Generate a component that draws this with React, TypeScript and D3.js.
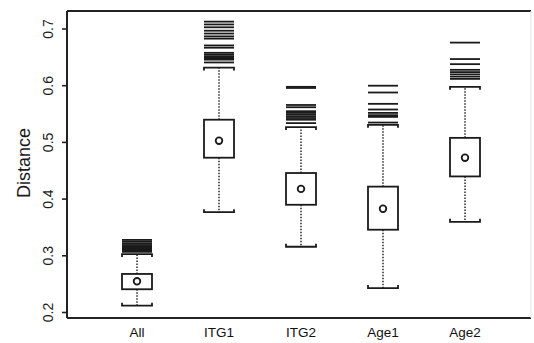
import { useEffect, useRef } from "react";
import * as d3 from "d3";

const categories = ["All", "ITG1", "ITG2", "Age1", "Age2"];
const lowerWhisker = [0.212, 0.377, 0.316, 0.243, 0.36];
const q1 = [0.241, 0.473, 0.39, 0.346, 0.44];
const centre = [0.255, 0.503, 0.418, 0.383, 0.473];
const q3 = [0.268, 0.54, 0.446, 0.422, 0.508];
const upperWhisker = [0.303, 0.632, 0.527, 0.531, 0.598];
const outliers = [
  [0.307, 0.309, 0.311, 0.313, 0.315, 0.317, 0.319, 0.322, 0.325, 0.328],
  [0.641, 0.646, 0.648, 0.65, 0.652, 0.655, 0.658, 0.667, 0.671, 0.683, 0.687, 0.692, 0.697, 0.703, 0.708, 0.713],
  [0.534, 0.54, 0.543, 0.546, 0.549, 0.552, 0.555, 0.562, 0.566, 0.596, 0.598],
  [0.535, 0.545, 0.548, 0.552, 0.558, 0.568, 0.588, 0.6],
  [0.612, 0.616, 0.62, 0.624, 0.628, 0.638, 0.647, 0.676],
];
const yTicks = [0.2, 0.3, 0.4, 0.5, 0.6, 0.7];

export default function App() {
  const svgRef = useRef<SVGSVGElement>(null);

  useEffect(() => {
    if (!svgRef.current) return;
    const svg = d3.select(svgRef.current);
    svg.selectAll("*").remove();

    const width = 534;
    const height = 343;
    const plot = { left: 67, right: 531, top: 11, bottom: 318 };
    const boxW = 30;
    const font = "'Liberation Sans', Arial, sans-serif";

    const x = d3.scalePoint<string>().domain(categories).range([137, 465]);
    const y = d3.scaleLinear().domain([0.2, 0.7]).range([312.5, 29]);

    svg.attr("width", width).attr("height", height);
    svg.append("rect").attr("width", width).attr("height", height).attr("fill", "#fff");

    // frame: strong left/top/bottom, faint right
    svg.append("line").attr("x1", plot.left).attr("x2", plot.right).attr("y1", plot.top).attr("y2", plot.top)
      .attr("stroke", "#222").attr("stroke-width", 2);
    svg.append("line").attr("x1", plot.left).attr("x2", plot.right).attr("y1", plot.bottom).attr("y2", plot.bottom)
      .attr("stroke", "#222").attr("stroke-width", 2);
    svg.append("line").attr("x1", plot.left).attr("x2", plot.left).attr("y1", plot.top).attr("y2", plot.bottom)
      .attr("stroke", "#222").attr("stroke-width", 2);
    svg.append("line").attr("x1", plot.right).attr("x2", plot.right).attr("y1", plot.top).attr("y2", plot.bottom)
      .attr("stroke", "#e4e4e4").attr("stroke-width", 1);

    // y axis
    const yAxis = svg.append("g");
    yAxis.selectAll("line.tick")
      .data(yTicks)
      .join("line")
      .attr("class", "tick")
      .attr("x1", plot.left - 5)
      .attr("x2", plot.left)
      .attr("y1", (d) => y(d))
      .attr("y2", (d) => y(d))
      .attr("stroke", "#222")
      .attr("stroke-width", 1.6);
    yAxis.selectAll("text")
      .data(yTicks)
      .join("text")
      .attr("transform", (d) => `translate(53,${y(d)}) rotate(-90)`)
      .attr("text-anchor", "middle")
      .attr("font-family", font)
      .attr("font-size", 14)
      .attr("fill", "#1a1a1a")
      .text((d) => d3.format(".1f")(d));

    svg.append("text")
      .attr("transform", `translate(30,163) rotate(-90)`)
      .attr("text-anchor", "middle")
      .attr("font-family", font)
      .attr("font-size", 18)
      .attr("fill", "#1a1a1a")
      .text("Distance");

    // x labels
    svg.selectAll("text.xlab")
      .data(categories)
      .join("text")
      .attr("class", "xlab")
      .attr("x", (d) => x(d)!)
      .attr("y", 337)
      .attr("text-anchor", "middle")
      .attr("font-family", font)
      .attr("font-size", 13.5)
      .attr("fill", "#111")
      .text((d) => d);

    const g = svg.append("g").attr("stroke", "#1a1a1a").attr("fill", "none");

    categories.forEach((c, i) => {
      const cx = x(c)!;
      const x0 = cx - boxW / 2;
      const x1 = cx + boxW / 2;

      // whiskers (dotted)
      g.append("line").attr("x1", cx).attr("x2", cx).attr("y1", y(q1[i])).attr("y2", y(lowerWhisker[i]))
        .attr("stroke-width", 1.4).attr("stroke-dasharray", "1.5,1.5");
      g.append("line").attr("x1", cx).attr("x2", cx).attr("y1", y(q3[i])).attr("y2", y(upperWhisker[i]))
        .attr("stroke-width", 1.4).attr("stroke-dasharray", "1.5,1.5");

      // staples
      const lw = y(lowerWhisker[i]);
      g.append("path").attr("d", `M${x0},${lw - 3}V${lw}H${x1}V${lw - 3}`).attr("stroke-width", 1.8);
      const uw = y(upperWhisker[i]);
      g.append("path").attr("d", `M${x0},${uw + 3}V${uw}H${x1}V${uw + 3}`).attr("stroke-width", 1.8);

      // box
      g.append("rect")
        .attr("x", x0)
        .attr("y", y(q3[i]))
        .attr("width", boxW)
        .attr("height", y(q1[i]) - y(q3[i]))
        .attr("fill", "#fff")
        .attr("stroke-width", 1.8);

      g.append("circle").attr("cx", cx).attr("cy", y(centre[i])).attr("r", 3.3).attr("stroke-width", 1.8);

      // outliers as bars
      g.selectAll(null)
        .data(outliers[i])
        .join("line")
        .attr("x1", x0)
        .attr("x2", x1)
        .attr("y1", (d) => y(d))
        .attr("y2", (d) => y(d))
        .attr("stroke-width", 1.8);
    });
  }, []);

  return (
    <svg
      ref={svgRef}
      width={534}
      height={343}
      style={{ position: "absolute", left: 0, top: 0 }}
      role="img"
      aria-label="Box plots of distance by group"
    />
  );
}
